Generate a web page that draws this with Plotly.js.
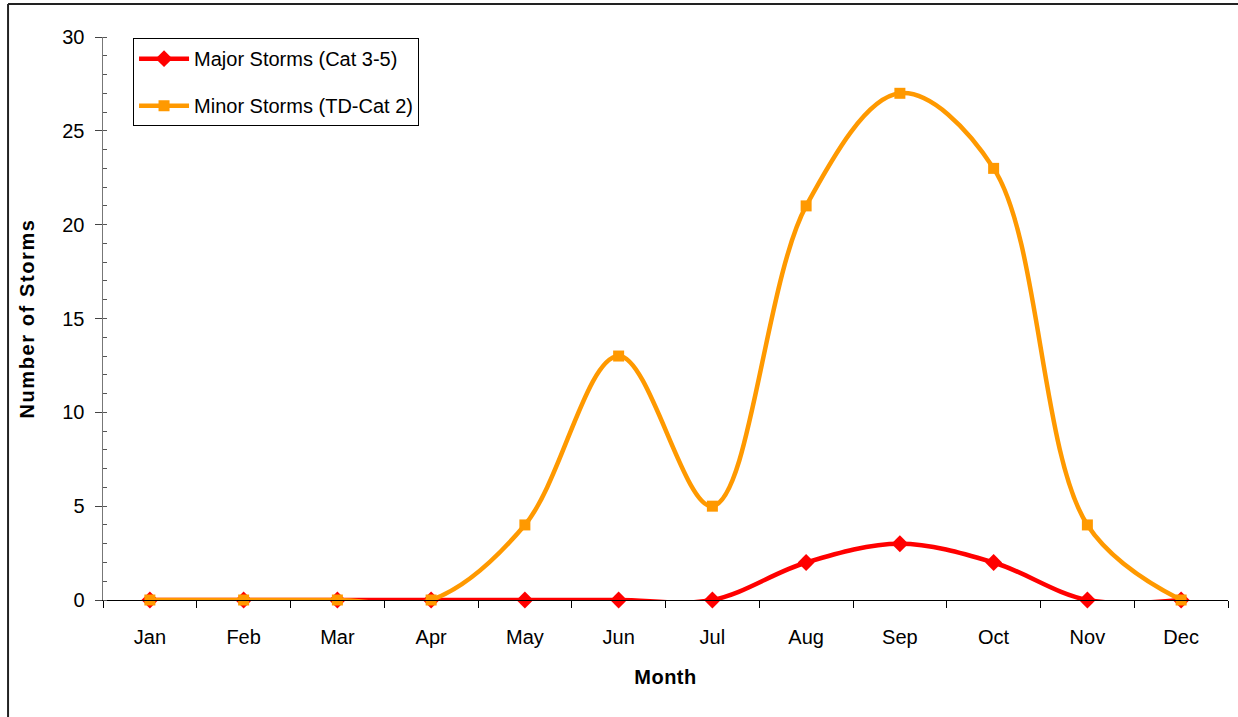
<!DOCTYPE html>
<html>
<head>
<meta charset="utf-8">
<script src="https://cdn.plot.ly/plotly-3.0.1.min.js"></script>
<style>
html,body{margin:0;padding:0;background:#fff;}
#chart{width:1238px;height:717px;}
#chart .ytitle{letter-spacing:1.6px;}
#chart .xtitle{letter-spacing:0.5px;}
</style>
</head>
<body>
<div id="chart"></div>
<script>
const months = ["Jan","Feb","Mar","Apr","May","Jun","Jul","Aug","Sep","Oct","Nov","Dec"];
const majorStorms = [0,0,0,0,0,0,0,2,3,2,0,0];
const minorStorms = [0,0,0,0,4,13,5,21,27,23,4,0];
const majorName = "Major Storms (Cat 3-5)";
const minorName = "Minor Storms (TD-Cat 2)";

const font = "Liberation Sans, Arial, sans-serif";

const traces = [
  {
    x: months, y: majorStorms, name: majorName, type: "scatter", mode: "lines+markers",
    line: {color: "#FF0000", width: 4.5, shape: "spline", smoothing: 1},
    marker: {symbol: "diamond", size: 13, color: "#FF0000"},
    cliponaxis: false, legendgroup: "a"
  },
  {
    x: months, y: minorStorms, name: minorName, type: "scatter", mode: "lines+markers",
    line: {color: "#FF9900", width: 4.5, shape: "spline", smoothing: 1},
    marker: {symbol: "square", size: 11, color: "#FF9900"},
    cliponaxis: false, legendgroup: "b"
  }
];

const layout = {
  width: 1238, height: 717,
  margin: {l: 103, r: 10, t: 37, b: 117},
  paper_bgcolor: "#fff", plot_bgcolor: "#fff",
  font: {family: font, size: 20, color: "#000"},
  showlegend: true,
  legend: {
    x: 0.0267, y: 0.998, xanchor: "left", yanchor: "top",
    bordercolor: "#000", borderwidth: 1, bgcolor: "#fff",
    font: {family: font, size: 20, color: "#000"},
    traceorder: "grouped", tracegroupgap: 18,
    itemwidth: 50
  },
  xaxis: {
    type: "category", range: [-0.5, 11.5],
    showline: true, linecolor: "#000", linewidth: 1,
    ticks: "outside", ticklen: 7, tickcolor: "#000", tickson: "boundaries",
    ticklabelstandoff: 19,
    showgrid: false, zeroline: false,
    tickfont: {family: font, size: 20},
    title: {text: "Month", font: {family: font, size: 20, weight: "bold"}, standoff: 22}
  },
  yaxis: {
    range: [0, 30], dtick: 5,
    showline: true, linecolor: "#777", linewidth: 1.5,
    ticks: "outside", ticklen: 7, tickcolor: "#444",
    minor: {ticks: "inside", dtick: 1, ticklen: 4, tickcolor: "#555"},
    ticklabelstandoff: 6,
    showgrid: false, zeroline: false,
    tickfont: {family: font, size: 20},
    title: {text: "Number of Storms", font: {family: font, size: 20, weight: "bold"}, standoff: 22}
  },
  shapes: [
    {type: "line", xref: "paper", yref: "paper", x0: -0.0844, x1: 1.02, y0: 1.0586, y1: 1.0586,
     line: {color: "#222", width: 2}},
    {type: "line", xref: "paper", yref: "paper", x0: -0.0844, x1: -0.0844, y0: 1.0586, y1: -0.25,
     line: {color: "#222", width: 2}}
  ]
};

Plotly.newPlot("chart", traces, layout, {displayModeBar: false, staticPlot: true});
</script>
</body>
</html>
